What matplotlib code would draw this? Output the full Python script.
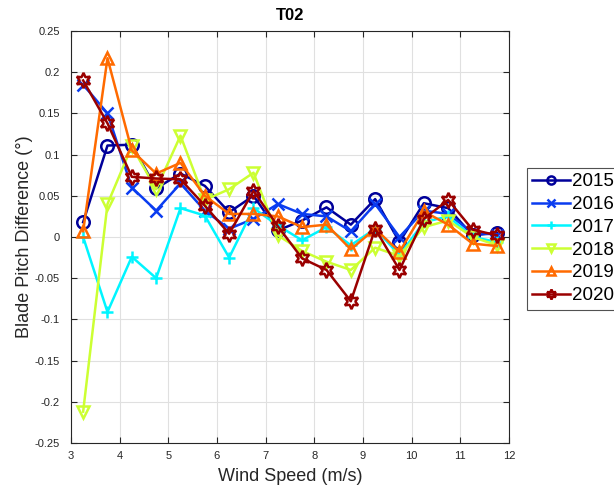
import numpy as np
import matplotlib
matplotlib.use('Agg')
import matplotlib.pyplot as plt

plt.rcParams['font.family'] = ['Liberation Sans', 'DejaVu Sans']

wind = [3.25, 3.75, 4.25, 4.75, 5.25, 5.75, 6.25, 6.75, 7.25,
        7.75, 8.25, 8.75, 9.25, 9.75, 10.25, 10.75, 11.25, 11.75]

y2015 = [0.018, 0.111, 0.112, 0.059, 0.077, 0.062, 0.030, 0.050, 0.008,
         0.020, 0.036, 0.015, 0.046, -0.006, 0.041, 0.035, 0.002, 0.005]
y2016 = [0.185, 0.150, 0.060, 0.032, 0.065, 0.032, 0.010, 0.022, 0.040,
         0.028, 0.025, 0.007, 0.040, 0.000, 0.032, 0.028, 0.005, 0.003]
y2017 = [0.000, -0.091, -0.024, -0.050, 0.035, 0.026, -0.025, 0.035, 0.014,
         -0.004, 0.012, -0.010, 0.010, -0.022, 0.018, 0.025, 0.000, -0.006]
y2018 = [-0.212, 0.040, 0.110, 0.058, 0.123, 0.045, 0.058, 0.078, 0.002,
         -0.017, -0.030, -0.040, -0.013, -0.023, 0.012, 0.020, 0.000, -0.010]
y2019 = [0.007, 0.217, 0.105, 0.077, 0.090, 0.050, 0.028, 0.028, 0.025,
         0.012, 0.015, -0.015, 0.010, -0.018, 0.031, 0.015, -0.008, -0.011]
y2020 = [0.190, 0.138, 0.073, 0.071, 0.070, 0.038, 0.004, 0.056, 0.013,
         -0.026, -0.040, -0.078, 0.010, -0.040, 0.022, 0.045, 0.009, 0.002]

years = ['2015', '2016', '2017', '2018', '2019', '2020']
series = [y2015, y2016, y2017, y2018, y2019, y2020]
colors = ['#00009A', '#0A3CF0', '#00F5FF', '#CCFF33', '#FF6A00', '#9A0000']
markers = ['o', 'x', '+', 'v', '^', (6, 1, 0)]

fig = plt.figure(figsize=(6.14, 4.92), dpi=100)
ax = fig.add_axes([0.1156, 0.0996, 0.7134, 0.8374])

for yr, vals, c, m in zip(years, series, colors, markers):
    ms = 11 if m == (6, 1, 0) else 9
    ax.plot(wind, vals, color=c, marker=m, markersize=ms, markerfacecolor='none',
            markeredgecolor=c, markeredgewidth=1.8, linewidth=1.8, label=yr)

ax.set_xlim(3, 12)
ax.set_ylim(-0.25, 0.25)
ax.set_xticks(np.arange(3, 13, 1))
yt = np.round(np.arange(-0.25, 0.2501, 0.05), 2) + 0.0
ax.set_yticks(yt)
ax.set_yticklabels(['0' if abs(v) < 1e-9 else '%g' % v for v in yt])
ax.grid(True, color='#e0e0e0', linewidth=0.8)
ax.set_axisbelow(True)
ax.tick_params(direction='in', top=True, right=True, labelsize=8,
               colors='#262626', length=4)
ax.tick_params(axis='x', pad=6)
ax.tick_params(axis='y', pad=8)
for s in ax.spines.values():
    s.set_color('#262626')
    s.set_linewidth(0.8)

ax.set_xlabel('Wind Speed (m/s)', fontsize=13, color='#262626', labelpad=5)
ax.set_ylabel('Blade Pitch Difference (°)', fontsize=13, color='#262626', labelpad=1)
ax.set_title('T02', fontsize=12, fontweight='bold', pad=8)

leg = ax.legend(loc='center left', bbox_to_anchor=(1.04, 0.496), fontsize=13.5,
                frameon=True, fancybox=False, edgecolor='#262626',
                handlelength=2.0, handletextpad=0.1, borderpad=0.3,
                labelspacing=0.3, borderaxespad=0, markerscale=0.65)
leg.get_frame().set_linewidth(0.8)

fig.savefig('out.png', dpi=100)
